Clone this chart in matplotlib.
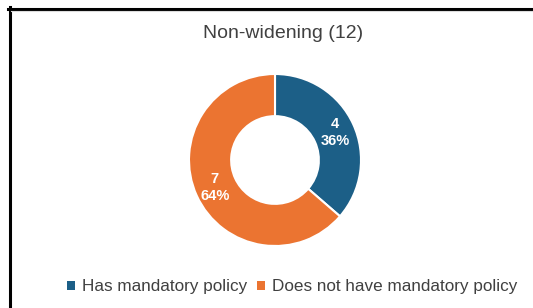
import matplotlib
matplotlib.use("Agg")
import matplotlib.pyplot as plt
from matplotlib.lines import Line2D
from matplotlib.patches import Patch
import numpy as np

title = "Non-widening (12)"
categories = ["Has mandatory policy", "Does not have mandatory policy"]
values = [4, 7]
percents = ["36%", "64%"]
colors = ["#1c5f87", "#eb7431"]

plt.rcParams['font.family'] = ['Liberation Sans', 'DejaVu Sans']

fig = plt.figure(figsize=(5.33, 3.08), dpi=100)
fig.patch.set_facecolor("white")

# frame lines (left and top)
fig.add_artist(Line2D([9.5/533, 9.5/533], [0, 1 - 7.3/308], color="black", lw=2.2, transform=fig.transFigure))
fig.add_artist(Line2D([8.4/533, 1], [1 - 8.5/308, 1 - 8.5/308], color="black", lw=2.2, transform=fig.transFigure))
fig.add_artist(Line2D([11/533, 1], [1 - 10.5/308, 1 - 10.5/308], color="#dcdcdc", lw=0.8, transform=fig.transFigure))

r = 86
ax = fig.add_axes([(275 - r)/533, (308 - 160 - r)/308, 2*r/533, 2*r/308])
wedges, _ = ax.pie(values, colors=colors, startangle=90, counterclock=False,
                   radius=1.0, wedgeprops=dict(width=0.49, edgecolor="white", linewidth=1.5))
ax.set_xlim(-1, 1)
ax.set_ylim(-1, 1)
ax.set_aspect("equal")
ax.axis("off")

total = sum(values)
ang = 90
for v, p in zip(values, percents):
    mid = ang - 360 * v / total / 2
    ang -= 360 * v / total
    rr = 0.77
    x = rr * np.cos(np.radians(mid))
    y = rr * np.sin(np.radians(mid))
    ax.text(x, y, f"{v}\n{p}", ha="center", va="center", color="white",
            fontsize=10.5, fontweight="bold", linespacing=1.3)

fig.text(283/533, 1 - 33/308, title, ha="center", va="center", fontsize=14, color="#404040")

handles = [Patch(facecolor=c, edgecolor="none") for c in colors]
fig.legend(handles, categories, loc="center", bbox_to_anchor=(292/533, 1 - 287/308),
           ncol=2, frameon=False, fontsize=12.3, handlelength=0.45, handleheight=0.45,
           handletextpad=0.4, columnspacing=0.6, labelcolor="#404040")

fig.savefig("out.png", dpi=100, facecolor="white")
